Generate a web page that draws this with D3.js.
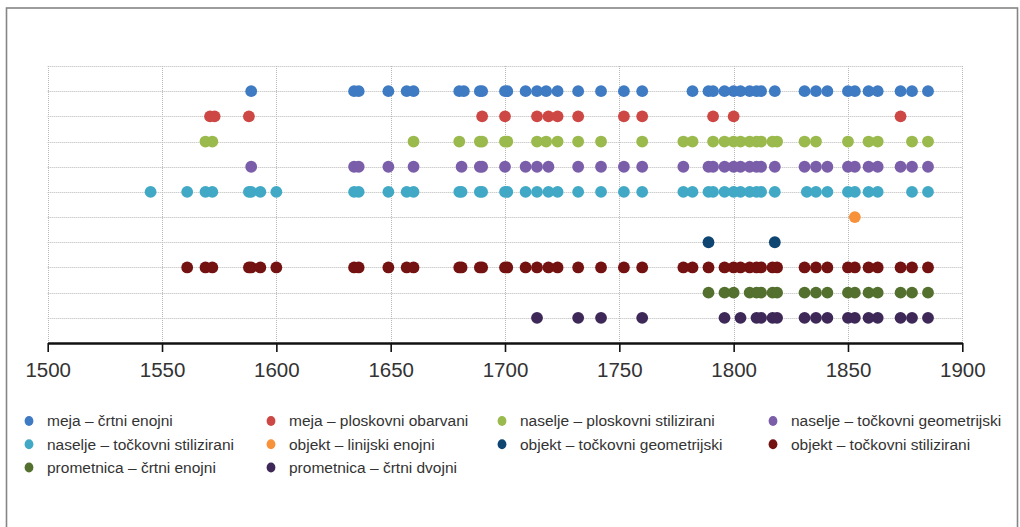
<!DOCTYPE html>
<html><head><meta charset="utf-8">
<script src="https://cdn.jsdelivr.net/npm/d3@7"></script>
<style>body{margin:0;background:#fff}svg{display:block}</style>
</head><body>
<svg id="c" width="1020" height="527"></svg>
<script>
// ---- data ----
const seriesNames = [
  "meja – črtni enojni",
  "meja – ploskovni obarvani",
  "naselje – ploskovni stilizirani",
  "naselje – točkovni geometrijski",
  "naselje – točkovni stilizirani",
  "objekt – linijski enojni",
  "objekt – točkovni geometrijski",
  "objekt – točkovni stilizirani",
  "prometnica – črtni enojni",
  "prometnica – črtni dvojni"
];
const seriesColors = ["#3f7bc3","#cd4844","#9bba4d","#7b5ea9","#41a9c6","#f7923a","#0f4571","#741212","#53702f","#3d2858"];

const mejaCrtniEnojni = [1589,1634,1636,1649,1657,1660,1680,1682,1689,1690,1700,1701,1709,1714,1718,1723,1732,1742,1752,1760,1782,1789,1791,1796,1800,1803,1807,1810,1812,1818,1831,1836,1841,1850,1853,1859,1863,1873,1878,1885];
const mejaPloskovniObarvani = [1571,1573,1588,1690,1700,1714,1719,1723,1732,1752,1760,1791,1800,1873];
const naseljePloskovniStilizirani = [1569,1572,1660,1680,1689,1690,1700,1701,1714,1718,1723,1732,1742,1760,1778,1782,1791,1796,1800,1803,1807,1810,1812,1817,1819,1831,1836,1850,1859,1863,1878,1885];
const naseljeTockovniGeometrijski = [1589,1634,1636,1649,1660,1681,1689,1690,1700,1709,1714,1719,1732,1742,1752,1760,1778,1789,1791,1796,1800,1803,1807,1810,1812,1818,1831,1836,1841,1850,1853,1859,1863,1873,1878,1885];
const naseljeTockovniStilizirani = [1545,1561,1569,1572,1588,1589,1593,1600,1634,1636,1649,1657,1660,1680,1681,1689,1690,1700,1701,1709,1714,1719,1723,1732,1742,1752,1760,1778,1782,1789,1791,1796,1800,1803,1807,1810,1812,1818,1832,1836,1841,1850,1853,1859,1863,1878,1885];
const objektLinijskiEnojni = [1853];
const objektTockovniGeometrijski = [1789,1818];
const objektTockovniStilizirani = [1561,1569,1572,1588,1589,1593,1600,1634,1636,1649,1657,1660,1680,1681,1689,1690,1700,1701,1709,1714,1719,1723,1732,1742,1752,1760,1778,1782,1789,1796,1800,1803,1807,1810,1812,1817,1819,1831,1836,1841,1850,1853,1859,1863,1873,1878,1885];
const prometnicaCrtniEnojni = [1789,1796,1800,1807,1810,1812,1817,1819,1831,1836,1841,1850,1853,1859,1863,1873,1878,1885];
const prometnicaCrtniDvojni = [1714,1732,1742,1760,1796,1803,1810,1812,1817,1819,1831,1836,1841,1850,1853,1859,1863,1873,1878,1885];

const seriesValues = [mejaCrtniEnojni,mejaPloskovniObarvani,naseljePloskovniStilizirani,naseljeTockovniGeometrijski,naseljeTockovniStilizirani,objektLinijskiEnojni,objektTockovniGeometrijski,objektTockovniStilizirani,prometnicaCrtniEnojni,prometnicaCrtniDvojni];
const xTicks = [1500,1550,1600,1650,1700,1750,1800,1850,1900];

// ---- drawing ----
const svg = d3.select("#c");
const FONT = "'Liberation Sans', Arial, sans-serif";

svg.append("rect").attr("x",6.5).attr("y",8).attr("width",1011).attr("height",540)
  .attr("fill","none").attr("stroke","#858585").attr("stroke-width",1.6);

const x = d3.scaleLinear().domain([1500,1900]).range([47.7,962.3]);
const y = d3.scaleLinear().domain([0,11]).range([66,343]);

const grid = svg.append("g");
grid.selectAll("line.h").data(d3.range(0,11)).join("line")
  .attr("x1",x(1500)).attr("x2",x(1900))
  .attr("y1",d=>Math.round(y(d))+0.5).attr("y2",d=>Math.round(y(d))+0.5)
  .attr("stroke","#b8b8b8").attr("stroke-width",1).attr("stroke-dasharray","1,1");
grid.selectAll("line.v").data(xTicks).join("line")
  .attr("x1",d=>Math.round(x(d))+0.5).attr("x2",d=>Math.round(x(d))+0.5)
  .attr("y1",y(0)).attr("y2",y(11))
  .attr("stroke","#b8b8b8").attr("stroke-width",1).attr("stroke-dasharray","1,1");

// points
seriesValues.forEach((vals,i)=>{
  svg.append("g").selectAll("circle").data(vals).join("circle")
    .attr("cx",d=>x(d)).attr("cy",y(i+1)).attr("r",5.9)
    .attr("fill",seriesColors[i]);
});

// axis
const axis = d3.axisBottom(x).tickValues(xTicks).tickFormat(d3.format("d")).tickSizeInner(9).tickSizeOuter(0).tickPadding(10);
const ag = svg.append("g").attr("transform",`translate(0,${y(11)})`).call(axis);
ag.select(".domain").attr("stroke","#111").attr("stroke-width",2.4);
ag.selectAll(".tick line").attr("stroke","#111").attr("stroke-width",1.6);
ag.selectAll(".tick text").attr("fill","#333").style("font-family",FONT).style("font-size","20.5px");

// legend
const colX = [29,271,502,773];
const rowY = [421,444.3,467.5];
const lg = svg.append("g");
seriesNames.forEach((name,i)=>{
  const cx = colX[i%4], cy = rowY[Math.floor(i/4)];
  lg.append("ellipse").attr("cx",cx).attr("cy",cy).attr("rx",4.4).attr("ry",5).attr("fill",seriesColors[i]);
  lg.append("text").attr("x",cx+18).attr("y",cy).attr("dy","0.35em")
    .attr("fill","#333").style("font-family",FONT).style("font-size","15.5px").text(name);
});
</script>
</body></html>
